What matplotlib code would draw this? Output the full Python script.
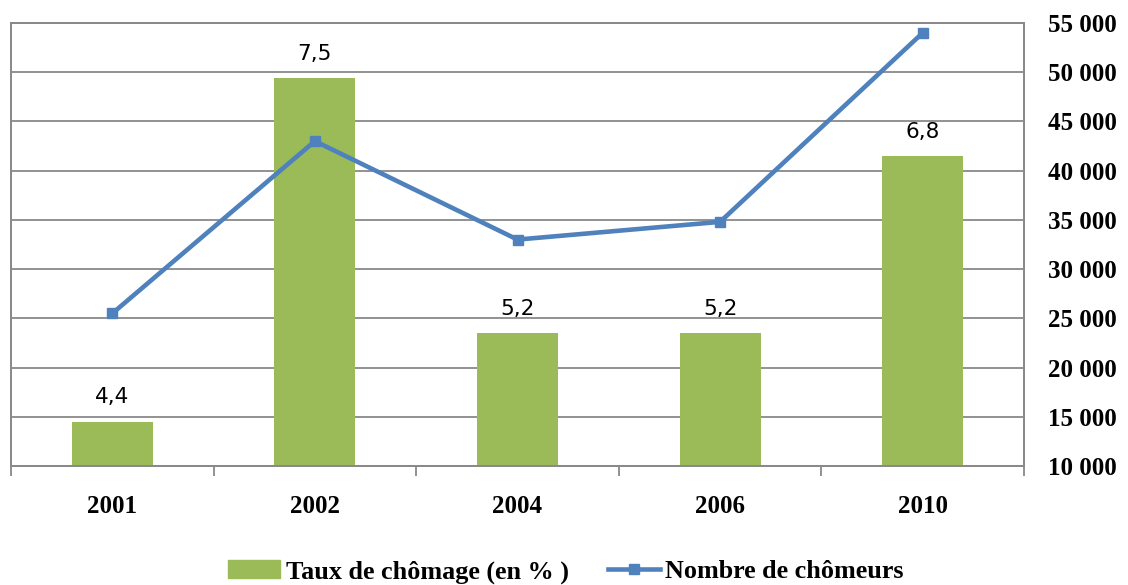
import matplotlib
matplotlib.use("Agg")
import matplotlib.pyplot as plt
from matplotlib.lines import Line2D
from matplotlib.patches import Patch

years = ["2001", "2002", "2004", "2006", "2010"]
taux = [4.4, 7.5, 5.2, 5.2, 6.8]
taux_labels = ["4,4", "7,5", "5,2", "5,2", "6,8"]
chomeurs = [25500, 43000, 33000, 34800, 54000]
right_ticks = [10000, 15000, 20000, 25000, 30000, 35000, 40000, 45000, 50000, 55000]

bar_color = "#9BBB59"
line_color = "#4F81BD"
grid_color = "#898989"
serif = ["Liberation Serif", "DejaVu Serif"]

fig = plt.figure(figsize=(11.28, 5.85), dpi=100)
ax = fig.add_axes([11/1128, 1 - 466/585, (1024-11)/1128, (466-23)/585])
ax2 = ax.twinx()

x = list(range(len(years)))

# right axis (line + grid)
ax2.set_ylim(10000, 55000)
ax2.set_yticks(right_ticks)
ax2.set_yticklabels([f"{v:,}".replace(",", " ") for v in right_ticks],
                    fontfamily=serif, fontweight="bold", fontsize=18)
ax2.tick_params(axis="y", length=0, pad=17)
for v in right_ticks:
    ax.axhline(4 + (v - 10000) / 45000 * 4, color=grid_color, lw=1.3, zorder=0)

# bars on hidden left axis
ax.bar(x, taux, width=0.4, bottom=0, color=bar_color, zorder=2)
ax.set_ylim(4, 8)
ax.set_xlim(-0.5, len(years) - 0.5)
ax.set_yticks([])
for xi, v, lab in zip(x, taux, taux_labels):
    ax.annotate(lab, (xi, v), xytext=(0, 17.5), textcoords="offset points",
                ha="center", va="center", fontsize=15.5, fontfamily="DejaVu Sans")

ax2.plot(x, chomeurs, color=line_color, lw=3.3, marker="s", markersize=7.5, zorder=3)
ax.set_zorder(ax2.get_zorder() - 1)
ax2.patch.set_visible(False)

# x axis ticks at boundaries
ax.set_xticks([i - 0.5 for i in range(len(years) + 1)], minor=False)
ax.set_xticklabels([""] * (len(years) + 1))
ax.tick_params(axis="x", length=7, width=1.3, color=grid_color, direction="out")
ax.set_xticks(x, minor=True)
ax.set_xticklabels(years, minor=True, fontfamily=serif, fontweight="bold", fontsize=18)
ax.tick_params(axis="x", which="minor", length=0, pad=21)

for a in (ax, ax2):
    for s in a.spines.values():
        s.set_color(grid_color)
        s.set_linewidth(1.3)

handles = [Patch(color=bar_color, label="Taux de chômage (en % )"),
           Line2D([0], [0], color=line_color, lw=3.3, marker="s", markersize=7.5,
                  label="Nombre de chômeurs")]
fig.legend(handles=handles, loc="center", bbox_to_anchor=(566/1128, 1 - 572/585),
           ncol=2, frameon=False, prop={"family": serif, "weight": "bold", "size": 18.8},
           handlelength=2.0, handletextpad=0.2, columnspacing=1.5)

fig.savefig("out.png", dpi=100)
